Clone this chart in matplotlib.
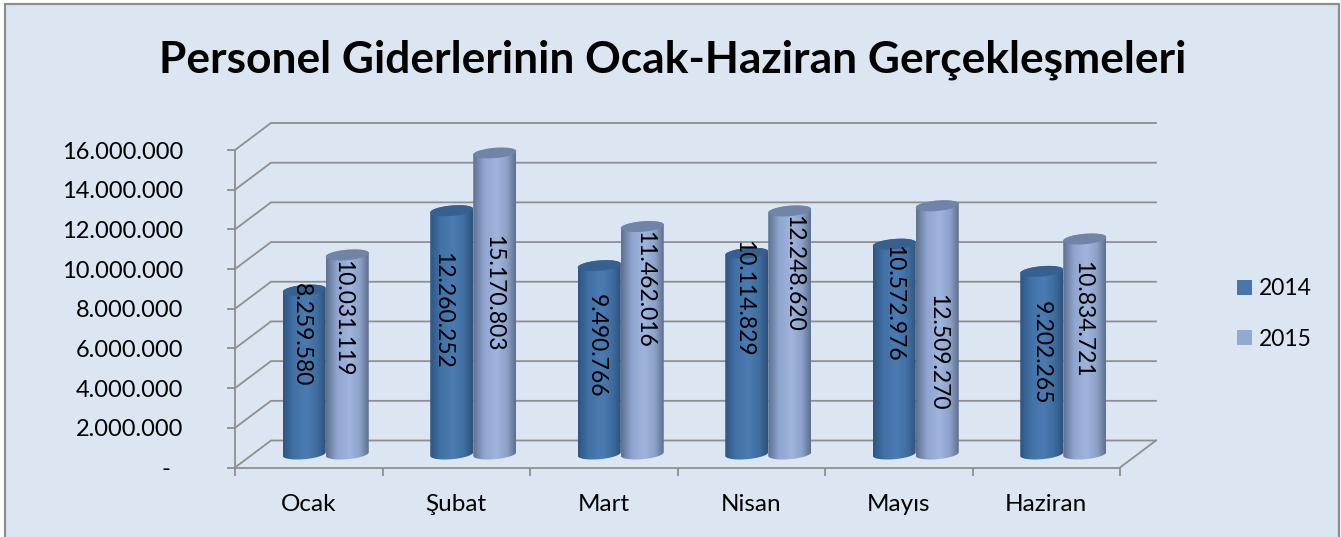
import matplotlib
matplotlib.use('Agg')
import matplotlib.pyplot as plt
import numpy as np
from matplotlib.colors import LinearSegmentedColormap
from matplotlib.patches import Patch, Polygon, Rectangle
from matplotlib.ticker import FuncFormatter

plt.rcParams['font.family'] = ['Lato', 'DejaVu Sans']

# data
months = ['Ocak', 'Şubat', 'Mart', 'Nisan', 'Mayıs', 'Haziran']
series_names = ['2014', '2015']
values_2014 = [8259580, 12260252, 9490766, 10114829, 10572976, 9202265]
values_2015 = [10031119, 15170803, 11462016, 12248620, 12509270, 10834721]
y_ticks = [0, 2000000, 4000000, 6000000, 8000000, 10000000, 12000000, 14000000, 16000000]

# where the data labels sit on the value axis (they are not centred in the original)
label_y_2014 = [6680000, 7940000, 6120000, 8540000, 8290000, 5770000]
label_y_2015 = [7530000, 8790000, 8950000, 9800000, 5820000, 7480000]
label_dx_2014 = [-3, -9, -3, -3, -1, -1]
label_dx_2015 = [-5, -1, 2, 4, 0, -2]

W, H = 1341, 537
BG = '#DCE6F2'
GRID = '#8F8F8F'

# plot box in pixels
LEFT, RIGHT, BOTTOM, TOP = 235, 1120, 467.5, 150
px_x = 6 / (RIGHT - LEFT)
px_y = 16000000 / (BOTTOM - TOP)
depth_x = 36 * px_x
depth_y = 27 * px_y
bar_w = 43 * px_x

fig = plt.figure(figsize=(W / 100, H / 100), dpi=100, facecolor='white')
fig.patches.append(Rectangle((5 / W, -0.05), 1334 / W, 1.05 - 4 / H, transform=fig.transFigure,
                             facecolor=BG, edgecolor='#8E8E8E', linewidth=1.6, zorder=-1))

ax = fig.add_axes([LEFT / W, 1 - BOTTOM / H, (RIGHT - LEFT) / W, (BOTTOM - TOP) / H])
ax.patch.set_alpha(0)

# walls and floor
for v in y_ticks:
    ax.plot([0, depth_x, 6 + depth_x], [v, v + depth_y, v + depth_y], color=GRID, lw=1.3,
            clip_on=False, zorder=1, solid_joinstyle='miter')
ax.plot([6, 6 + depth_x], [0, depth_y], color=GRID, lw=1.3, clip_on=False, zorder=1)

cmap_2014 = LinearSegmentedColormap.from_list('c14', [(0, '#2F5583'), (0.25, '#4172A6'), (0.55, '#4B7BB2'),
                                                      (0.8, '#3F6D9F'), (1, '#2E527D')])
cmap_2015 = LinearSegmentedColormap.from_list('c15', [(0, '#5F718F'), (0.25, '#8FA5CF'), (0.55, '#9FB5DE'),
                                                      (0.8, '#8CA1C8'), (1, '#5E7090')])
shade = np.linspace(0, 1, 64).reshape(1, -1)


def cylinder(x0, value, cmap, top_color, z):
    a = bar_w / 2
    b = 5.2 * px_y
    tilt = 1.8 * px_y
    cx = x0 + a
    t_low = np.linspace(np.pi, 2 * np.pi, 40)
    t_up = np.linspace(0, np.pi, 40)
    # bars stand halfway into the floor
    base = depth_y / 2
    top = value + depth_y / 2
    xs = np.r_[cx + a * np.cos(t_low), cx + a * np.cos(t_up)]
    ys = np.r_[base + b * np.sin(t_low) + tilt * np.cos(t_low), top + b * np.sin(t_up) + tilt * np.cos(t_up)]
    body = Polygon(np.c_[xs, ys], closed=True, transform=ax.transData, facecolor='none', edgecolor='none')
    ax.add_patch(body)
    im = ax.imshow(shade, cmap=cmap, extent=[x0, x0 + bar_w, 0, top + 2 * b], aspect='auto', zorder=z,
                   interpolation='bilinear')
    im.set_clip_path(body)
    t = np.linspace(0, 2 * np.pi, 80)
    ax.fill(cx + a * np.cos(t), top + b * np.sin(t) + tilt * np.cos(t), color=top_color, lw=0, zorder=z + 0.1,
            clip_on=False)


for i in range(len(months)):
    centre = i + 0.5 + (depth_x - 2 * px_x) / 2
    cylinder(centre - bar_w, values_2014[i], cmap_2014, '#36608F', 2 + i)
    cylinder(centre, values_2015[i], cmap_2015, '#6F84A6', 2.5 + i)
    ax.text(centre - bar_w / 2 + label_dx_2014[i] * px_x, label_y_2014[i], f'{values_2014[i]:,}'.replace(',', '.'),
            rotation=-90, ha='center', va='center', fontsize=16.5, color='black', zorder=20, clip_on=False)
    ax.text(centre + bar_w / 2 + label_dx_2015[i] * px_x, label_y_2015[i], f'{values_2015[i]:,}'.replace(',', '.'),
            rotation=-90, ha='center', va='center', fontsize=16.5, color='black', zorder=20, clip_on=False)

ax.set_xlim(0, 6)
ax.set_ylim(0, 16000000)
ax.spines['top'].set_visible(False)
ax.spines['right'].set_visible(False)
for side in ['left', 'bottom']:
    ax.spines[side].set_color(GRID)
    ax.spines[side].set_linewidth(1.3)

ax.set_yticks(y_ticks)
ax.yaxis.set_major_formatter(FuncFormatter(lambda v, p: '-  ' if v == 0 else f'{int(v):,}'.replace(',', '.')))
ax.tick_params(axis='y', length=6, width=1.3, color=GRID, pad=31.5, labelsize=17)
ax.set_xticks(range(7))
ax.set_xticklabels([])
ax.tick_params(axis='x', which='major', length=6, width=1.3, color=GRID)
ax.set_xticks(np.arange(6) + 0.5, labels=months, minor=True)
ax.tick_params(axis='x', which='minor', length=0, pad=19, labelsize=17.5)

fig.text(673 / W, 1 - 60 / H, 'Personel Giderlerinin Ocak-Haziran Gerçekleşmeleri', ha='center', va='center',
         fontsize=31.9, fontweight='bold', color='black')

handles = [Patch(facecolor='#4876AA', label=series_names[0]), Patch(facecolor='#94A9D0', label=series_names[1])]
fig.legend(handles=handles, loc='center left', bbox_to_anchor=(1237 / W, 1 - 314 / H), frameon=False, fontsize=16.5,
           handlelength=0.65, handleheight=0.65, handletextpad=0.32, labelspacing=1.27, borderpad=0, borderaxespad=0)

fig.savefig('out.png', dpi=100, facecolor='white')
